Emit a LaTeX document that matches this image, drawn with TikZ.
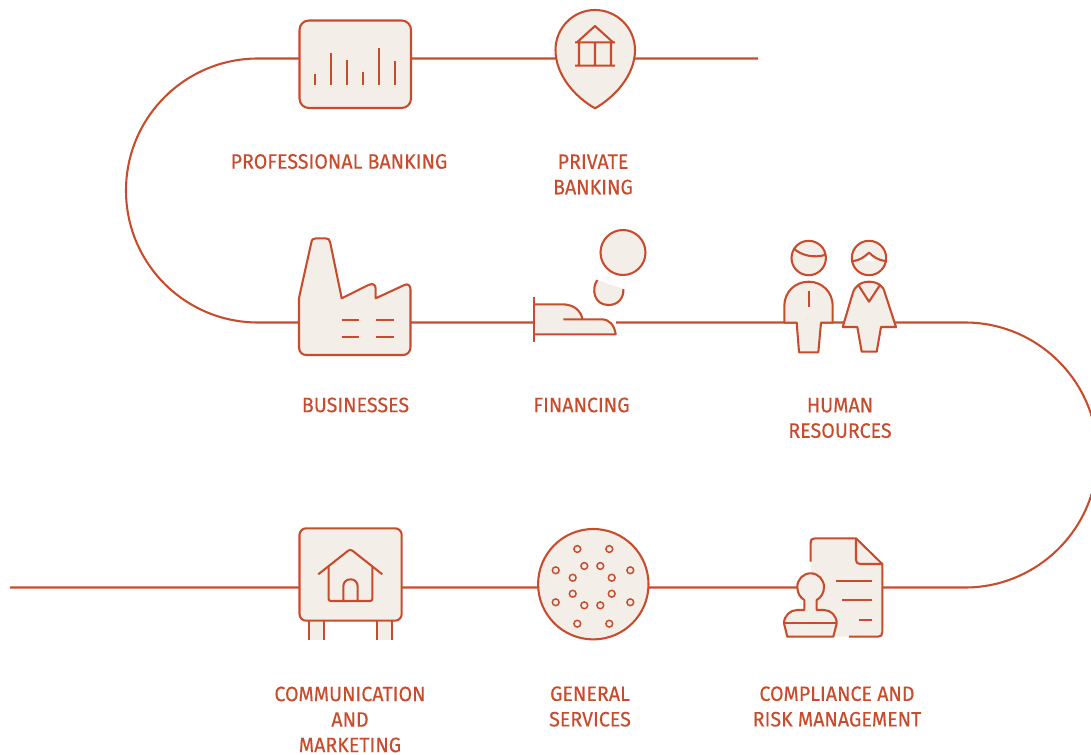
\documentclass[tikz,border=0pt]{standalone}
\usepackage{fontspec}
\setmainfont[FakeStretch=0.945,FakeBold=0.25]{Fira Sans}
\definecolor{rust}{HTML}{C84B2C}
\definecolor{cream}{HTML}{F3EEE8}
\tikzset{
  icon/.style={draw=rust,fill=cream,line width=1.55pt,line join=round},
  skin/.style={fill=cream,draw=none},
  ln/.style={draw=rust,line width=1.55pt,line join=round},
  lab/.style={text=rust,font=\fontsize{15.6pt}{19.1pt}\selectfont,align=center,inner sep=0pt,outer sep=0pt}
}
\begin{document}
\begin{tikzpicture}[x=0.75pt,y=-0.75pt]
\useasboundingbox (0,0) rectangle (1091,755);
% route
\coordinate (start) at (758,58.5);
\coordinate (t1) at (258,58.5);
\coordinate (tl) at (126,190.5);
\coordinate (t2) at (258,322.5);
\coordinate (t3) at (965,322.5);
\coordinate (tr) at (1097.5,455);
\coordinate (t4) at (965,587.5);
\coordinate (stop) at (10,587.5);
\draw[ln] (start) -- (t1)
  .. controls (185,58.5) and (126,117.5) .. (tl)
  .. controls (126,263.5) and (185,322.5) .. (t2)
  -- (534,322.5);
\draw[ln] (616,322.5) -- (t3)
  .. controls (1038,322.5) and (1097.5,382) .. (tr)
  .. controls (1097.5,528) and (1038,587.5) .. (t4)
  -- (stop);
% professional banking
\draw[icon,rounded corners=7] (299.5,20.5) rectangle (411,108);
\foreach \x/\y in {315/74,331/53.3,347/60,363/71.7,379/48.3,395/61}
  \draw[ln] (\x,85) -- (\x,\y);
% private banking
\draw[icon] (595,108.3) .. controls (575,97) and (555.5,75) .. (555.5,50)
  .. controls (555.5,28) and (573,10) .. (595,10)
  .. controls (617,10) and (635,28) .. (635,50)
  .. controls (635,75) and (615,97) .. (595,108.3) -- cycle;
\draw[ln] (575,42.3) -- (615,42.3) (577,42.3) -- (595,26) -- (613,42.3)
  (579,42.3) -- (579,65.7) (595,42.3) -- (595,65.7) (611,42.3) -- (611,65.7)
  (575,65.7) -- (615,65.7);
% businesses
\draw[icon] (299,298) -- (311.2,243) .. controls (311.8,239.5) and (313,238.3) .. (316,238.3)
  -- (325.5,238.3) .. controls (328.5,238.3) and (329.5,239.5) .. (330.2,242.5)
  -- (341.7,298.3) -- (368,285.2) .. controls (373,282.5) and (375.7,285) .. (375.7,289)
  -- (375.7,298.3) -- (404,285.2) .. controls (408,283) and (410.5,285.5) .. (410.5,289.5)
  -- (410.5,347) .. controls (410.5,352) and (407,355) .. (403,355)
  -- (306.5,355) .. controls (302,355) and (299,352) .. (299,347) -- cycle;
\draw[ln] (341.7,320) -- (359.3,320) (375.7,320) -- (394,320)
  (341.7,337) -- (359.3,337) (375.7,337) -- (394,337);
% financing
\draw[icon] (623,252.5) circle[radius=22.5];
\path[skin] (597.3,280) .. controls (591,289) and (594,305) .. (608.5,305)
  .. controls (618,305) and (624,298) .. (623.3,289) -- cycle;
\draw[ln] (597.3,280) .. controls (591,289) and (594,305) .. (608.5,305)
  .. controls (618,305) and (624,298) .. (623.3,289);
\path[skin] (534,304.3) -- (562,304.3) .. controls (573,304.3) and (581,310) .. (582.5,319.3)
  -- (601.7,319.3) .. controls (609,319.3) and (614.5,325) .. (615.7,334.3) -- (534,334.3) -- cycle;
\draw[ln] (534,304.3) -- (562,304.3) .. controls (573,304.3) and (581,310) .. (582.5,319.5);
\draw[ln] (563.3,319.3) -- (601.7,319.3) .. controls (609,319.3) and (614.5,325) .. (615.7,334.3) -- (534,334.3);
\draw[ln] (534,296.7) -- (534,342.3);
% human resources
\draw[icon] (808.7,258) circle[radius=17.2];
\draw[ln] (793.3,248.3) .. controls (802,256) and (814,258) .. (825,255);
\draw[icon] (784.3,322.7) -- (784.3,306) .. controls (784.3,292) and (795,281.7) .. (808.7,281.7)
  .. controls (822,281.7) and (832.7,292) .. (832.7,306) -- (832.7,322.7) -- (821,322.7)
  -- (818.3,352.3) -- (799,352.3) -- (796.7,322.7) -- cycle;
\draw[ln] (808.7,291) -- (808.7,306.7);
\draw[icon] (869,258) circle[radius=17.2];
\fill[white] (862.5,261) -- (869,255.5) -- (875.5,261) -- cycle;
\draw[ln] (852.3,261) .. controls (860,260.5) and (864,257) .. (869,252.7)
  .. controls (874,257) and (878,260.5) .. (886.7,261);
\draw[icon] (842.7,327) -- (852.7,293.3) .. controls (854,289) and (856,287) .. (858.3,285)
  .. controls (862,282.5) and (865,281.7) .. (869,281.7)
  .. controls (873,281.7) and (876.5,282.5) .. (880,285)
  .. controls (882.5,287) and (884,289) .. (885,293.3)
  -- (896,327) -- (881,327) -- (876.7,351.7) -- (861.7,351.7) -- (857.3,327) -- cycle;
\draw[ln] (858.3,285) -- (869,301.7) -- (880,285);
% compliance
\path[skin] (810.7,543) -- (856,538.3) -- (882.3,564) -- (882.3,636.7) -- (810.7,636.7) -- cycle;
\path[skin] (810.7,542) .. controls (810.7,539.5) and (812,538.3) .. (815,538.3) -- (856,538.3) -- (856,560) -- (810.7,560) -- cycle;
\draw[ln] (810.7,561.7) -- (810.7,543) .. controls (810.7,539.5) and (812,538.3) .. (815,538.3)
  -- (856,538.3) -- (882.3,564) -- (882.3,632) .. controls (882.3,635) and (881,636.7) .. (878,636.7) -- (849,636.7);
\draw[ln] (856,538.3) -- (856,560) .. controls (856,562.5) and (857.5,564) .. (860,564) -- (882.3,564);
\draw[ln] (836,580.7) -- (872.3,580.7) (842.3,600.3) -- (872.3,600.3) (859,620) -- (872.3,620);
\draw[icon] (804.3,610) -- (804.3,600) .. controls (800,597.5) and (797.3,593) .. (797.3,587)
  .. controls (797.3,579.5) and (803,573.3) .. (810.7,573.3)
  .. controls (818,573.3) and (824,579.5) .. (824,587)
  .. controls (824,593) and (821,597.5) .. (816.7,600) -- (816.7,610) -- (824,610)
  .. controls (831,610) and (836.7,616) .. (836.7,623.3) -- (833.3,636.7) -- (787.3,636.7) -- (784,623.3)
  .. controls (784,616) and (790,610) .. (797,610) -- cycle;
\draw[ln] (784,623.3) -- (836.7,623.3);
% general services
\draw[icon] (593.3,584.2) circle[radius=55.2];
\foreach \x/\y in {577.3/549,609.3/549,555.7/570.3,584.3/566,600.3/566,630.3/570.3,572.7/577.7,611.7/577.7,
  572.7/593.7,611.7/593.7,555.7/602.3,584.3/605.3,600.3/605.3,630.3/602.3,577.3/623.7,609.3/623.7}
  \draw[draw=rust,line width=1.1pt] (\x,\y) circle[radius=3.4];
% communication
\path[skin] (309,640) rectangle (324,622);
\path[skin] (376.7,640) rectangle (391.7,622);
\draw[ln] (309,640) -- (309,620) (324,640) -- (324,620) (376.7,640) -- (376.7,620) (391.7,640) -- (391.7,620);
\draw[icon,rounded corners=5] (299.5,528.3) rectangle (401.7,620.7);
\draw[ln,rounded corners=2] (318.3,574.3) -- (350.3,549) -- (382.3,574.3);
\draw[ln,rounded corners=1.5] (328.7,566.7) -- (328.7,601) -- (372.3,601) -- (372.3,566.7);
\draw[ln] (343.3,601) -- (343.3,586.5) .. controls (343.3,582) and (346.5,579.3) .. (350.5,579.3)
  .. controls (354.5,579.3) and (357.7,582) .. (357.7,586.5) -- (357.7,601);
% labels
\node[lab] (l1) at (339,161.5) {PROFESSIONAL BANKING};
\node[lab] (l2) at (593,174.5) {PRIVATE\\BANKING};
\node[lab] (l3) at (355.5,405) {BUSINESSES};
\node[lab] (l4) at (581.5,405) {FINANCING};
\node[lab] (l5) at (840,418) {HUMAN\\RESOURCES};
\node[lab] (l6) at (350,719.5) {COMMUNICATION\\AND\\MARKETING};
\node[lab] (l7) at (590,706.5) {GENERAL\\SERVICES};
\node[lab] (l8) at (837,706.5) {COMPLIANCE AND\\RISK MANAGEMENT};
\end{tikzpicture}
\end{document}
